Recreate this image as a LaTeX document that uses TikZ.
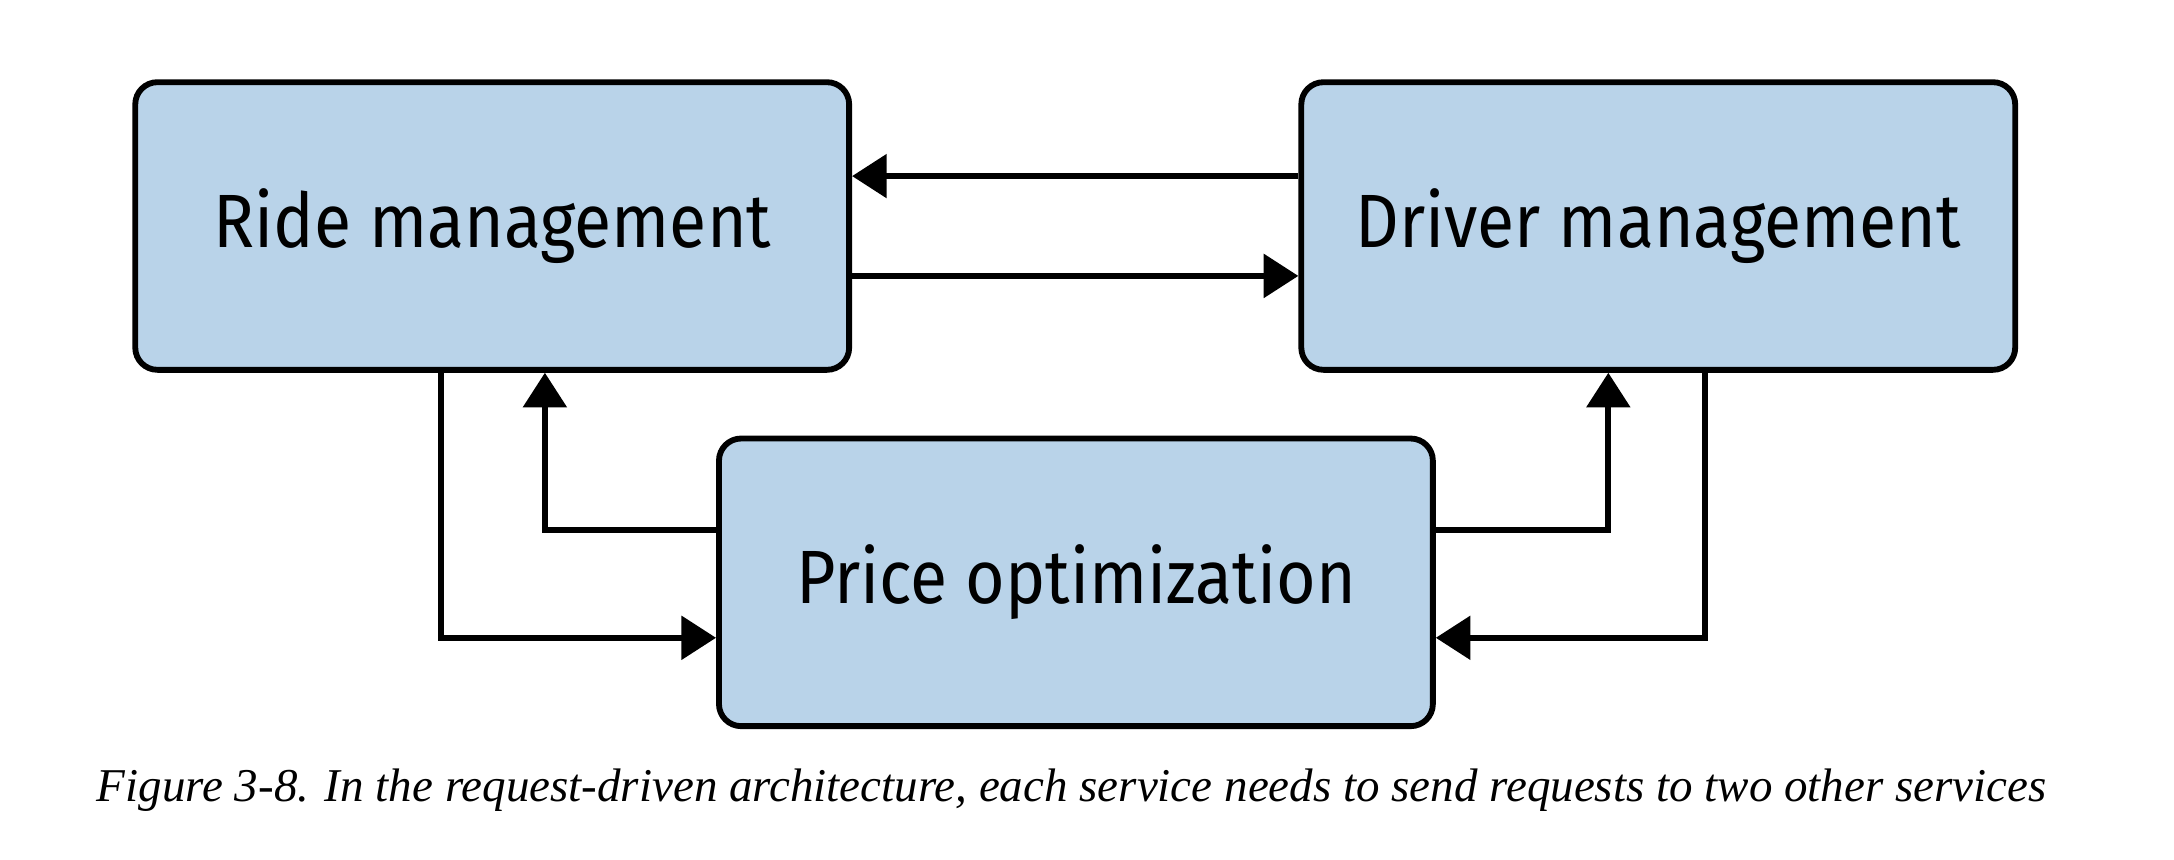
\documentclass[tikz,border=0pt]{standalone}
\usepackage{fontspec}
\setmainfont{Liberation Serif}
\newfontfamily\boxfont{Fira Sans}
\usetikzlibrary{arrows.meta}
\definecolor{ServiceFill}{HTML}{B9D3E9}
\tikzset{
    service/.style={draw=black, fill=ServiceFill, line width=2.4pt, rounded corners=0.32cm,
        minimum width=10.3cm, minimum height=4.15cm, font=\boxfont\fontsize{31}{36}\selectfont},
    request/.style={line width=2.4pt, -{Triangle[length=0.5cm,width=0.62cm]}},
}

\begin{document}
\begin{tikzpicture}[x=0.02cm, y=-0.02cm]
    \useasboundingbox (0,0) rectangle (1568,620);

    \node[service] (ride) at (355,163) {\scalebox{0.9}[1]{Ride management}};
    \node[service] (driver) at (1196,163) {\scalebox{0.9}[1]{Driver management}};
    \node[service] (price) at (776,420) {\scalebox{0.9}[1]{Price optimization}};

    \coordinate (rideDown) at (318,460);
    \coordinate (rideUp) at (393,382);
    \coordinate (driverUp) at (1160,382);
    \coordinate (driverDown) at (1230,460);

    \draw[request] (driver.west |- 0,127) -- (ride.east |- 0,127);
    \draw[request] (ride.east |- 0,199) -- (driver.west |- 0,199);
    \draw[request] (ride.south -| rideDown) -- (rideDown) -- (price.west |- rideDown);
    \draw[request] (price.west |- rideUp) -- (rideUp) -- (ride.south -| rideUp);
    \draw[request] (price.east |- driverUp) -- (driverUp) -- (driver.south -| driverUp);
    \draw[request] (driver.south -| driverDown) -- (driverDown) -- (price.east |- driverDown);

    \node[font=\itshape\fontsize{19.3}{23}\selectfont] (caption) at (773,570)
        {Figure 3-8. In the request-driven architecture, each service needs to send requests to two other services};
\end{tikzpicture}
\end{document}
